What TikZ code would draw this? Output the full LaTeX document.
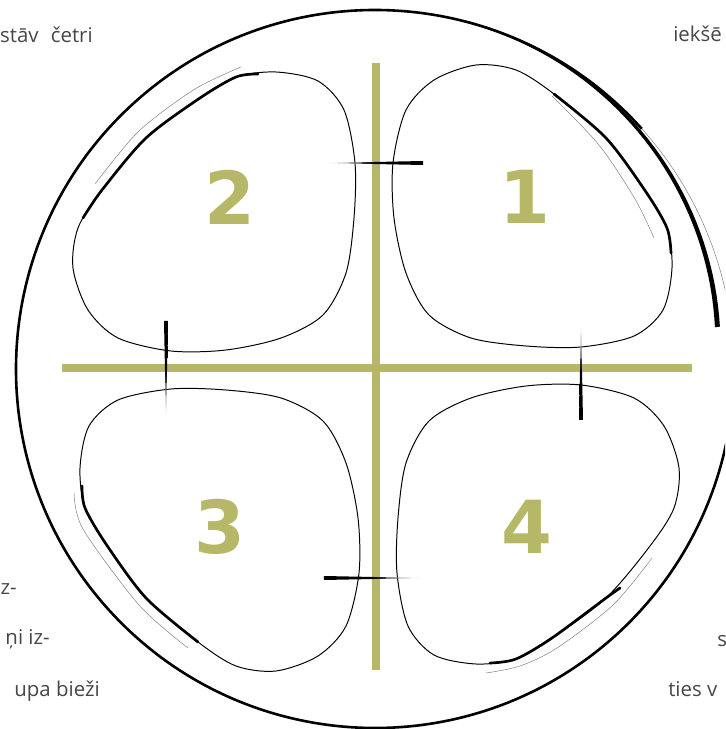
\documentclass[tikz,border=0pt]{standalone}
\usepackage{fontspec}
\usepackage{tikz}
\usetikzlibrary{calc}
\newfontfamily\txtfont{Open Sans}
\newfontfamily\numfont{DejaVu Sans}
\definecolor{CrossColor}{RGB}{183,183,104}
\definecolor{TextColor} {RGB}{70,70,70}

\begin{document}
\begin{tikzpicture}[x=0.025cm,y=0.025cm,
  blob/.style={draw,line width=0.7pt},
  accent/.style={line width=1.9pt,line cap=round},
  faint/.style={gray,line width=0.35pt},
  rim/.style={line width=1.85pt},
  cross/.style={CrossColor,line width=5.3pt},
  num/.style={CrossColor,font=\numfont\bfseries\fontsize{52}{52}\selectfont},
  frag/.style={TextColor,inner sep=0pt,font=\txtfont\fontsize{14.5}{17}\selectfont}]
\useasboundingbox (-376,368) rectangle (349,-361);
\clip (-376,368) rectangle (349,-361);
% outer ring, heavy on the upper right
\draw[rim] (-1,-1) ++(42:359) arc[start angle=42,end angle=348,radius=359];
\draw[faint] (-1,-1) ++(-12:359) arc[start angle=-12,end angle=42,radius=359];
\fill[shift={(-1,-1)}] plot[domain=75:7,samples=40] (\x:{359-14*((75-\x)/68)^2+0.9+1.6*(75-\x)/68})
  -- plot[domain=7:75,samples=40] (\x:{359-14*((75-\x)/68)^2-0.9-1.6*(75-\x)/68}) -- cycle;
% cross
\draw[cross] (-314,0) -- (316,0);
\draw[cross] (0,305) -- (0,-302);
% the four leaves
\foreach \ang in {0,-90,180,90}
  \draw[blob,rotate=\ang] plot[smooth cycle] coordinates {(-100,296) (-58,287) (-32,258)
    (-21,205) (-22,150) (-30,95) (-53,53) (-95,30) (-150,18) (-205,17) (-258,30) (-288,58)
    (-303,100) (-298,140) (-274,178) (-230,230) (-176,270) (-140,291)};
\draw[accent] plot[smooth] coordinates {(-118,294) (-140,291) (-176,270) (-230,230) (-274,178) (-293,150)};
\draw[accent,rotate=-90] plot[smooth] coordinates {(-274,178) (-230,230) (-176,270) (-140,291) (-115,295)};
\draw[accent,rotate=90] plot[smooth] coordinates {(-118,294) (-140,291) (-176,270) (-230,230) (-274,178)};
\draw[accent,rotate=180] plot[smooth] coordinates {(-114,295) (-140,291) (-176,270) (-230,230) (-244,220)};
\draw[faint] plot[smooth] coordinates {(-135,301) (-181,279) (-237,237) (-281,184)};
\draw[faint,rotate=-90] plot[smooth] coordinates {(-272,176) (-223,223) (-169,259) (-130,278)};
\draw[faint,rotate=90] plot[smooth] coordinates {(-125,302) (-161,293) (-237,237) (-280,188)};
\draw[faint,rotate=180] plot[smooth] coordinates {(-276,190) (-237,237) (-181,280) (-144,298) (-110,305)};
% ticks across the cross
\shade[left color=white,right color=black,middle color=black] (-51,205) -- (47,203) -- (47,207) -- cycle;
\shade[top color=white,bottom color=black,middle color=black] (205,46) -- (203,-52) -- (207,-52) -- cycle;
\shade[left color=black,right color=white,middle color=black] (-52,-208) -- (-52,-212) -- (47,-210) -- cycle;
\shade[top color=black,bottom color=white,middle color=black] (-212,47) -- (-208,47) -- (-210,-52) -- cycle;
% numbers
\node[num] (q1) at (149,171) {1};
\node[num] (q2) at (-146,171) {2};
\node[num] (q3) at (-156,-159) {3};
\node[num] (q4) at (151,-159) {4};
% text around
\node[frag,anchor=base east] (t1) at (-283,325) {stāv\hspace{0.6em}četri};
\node[frag,anchor=base east] (t2) at (-359,-226) {z-};
\node[frag,anchor=base east] (t3) at (-326,-276) {ņi iz-};
\node[frag,anchor=base east] (t4) at (-276,-328) {upa bieži};
\node[frag,anchor=base west] (t5) at (297,326) {iekšē};
\node[frag,anchor=base west] (t7) at (341,-278) {s};
\node[frag,anchor=base west] (t8) at (292,-328) {ties v};
\end{tikzpicture}
\end{document}
